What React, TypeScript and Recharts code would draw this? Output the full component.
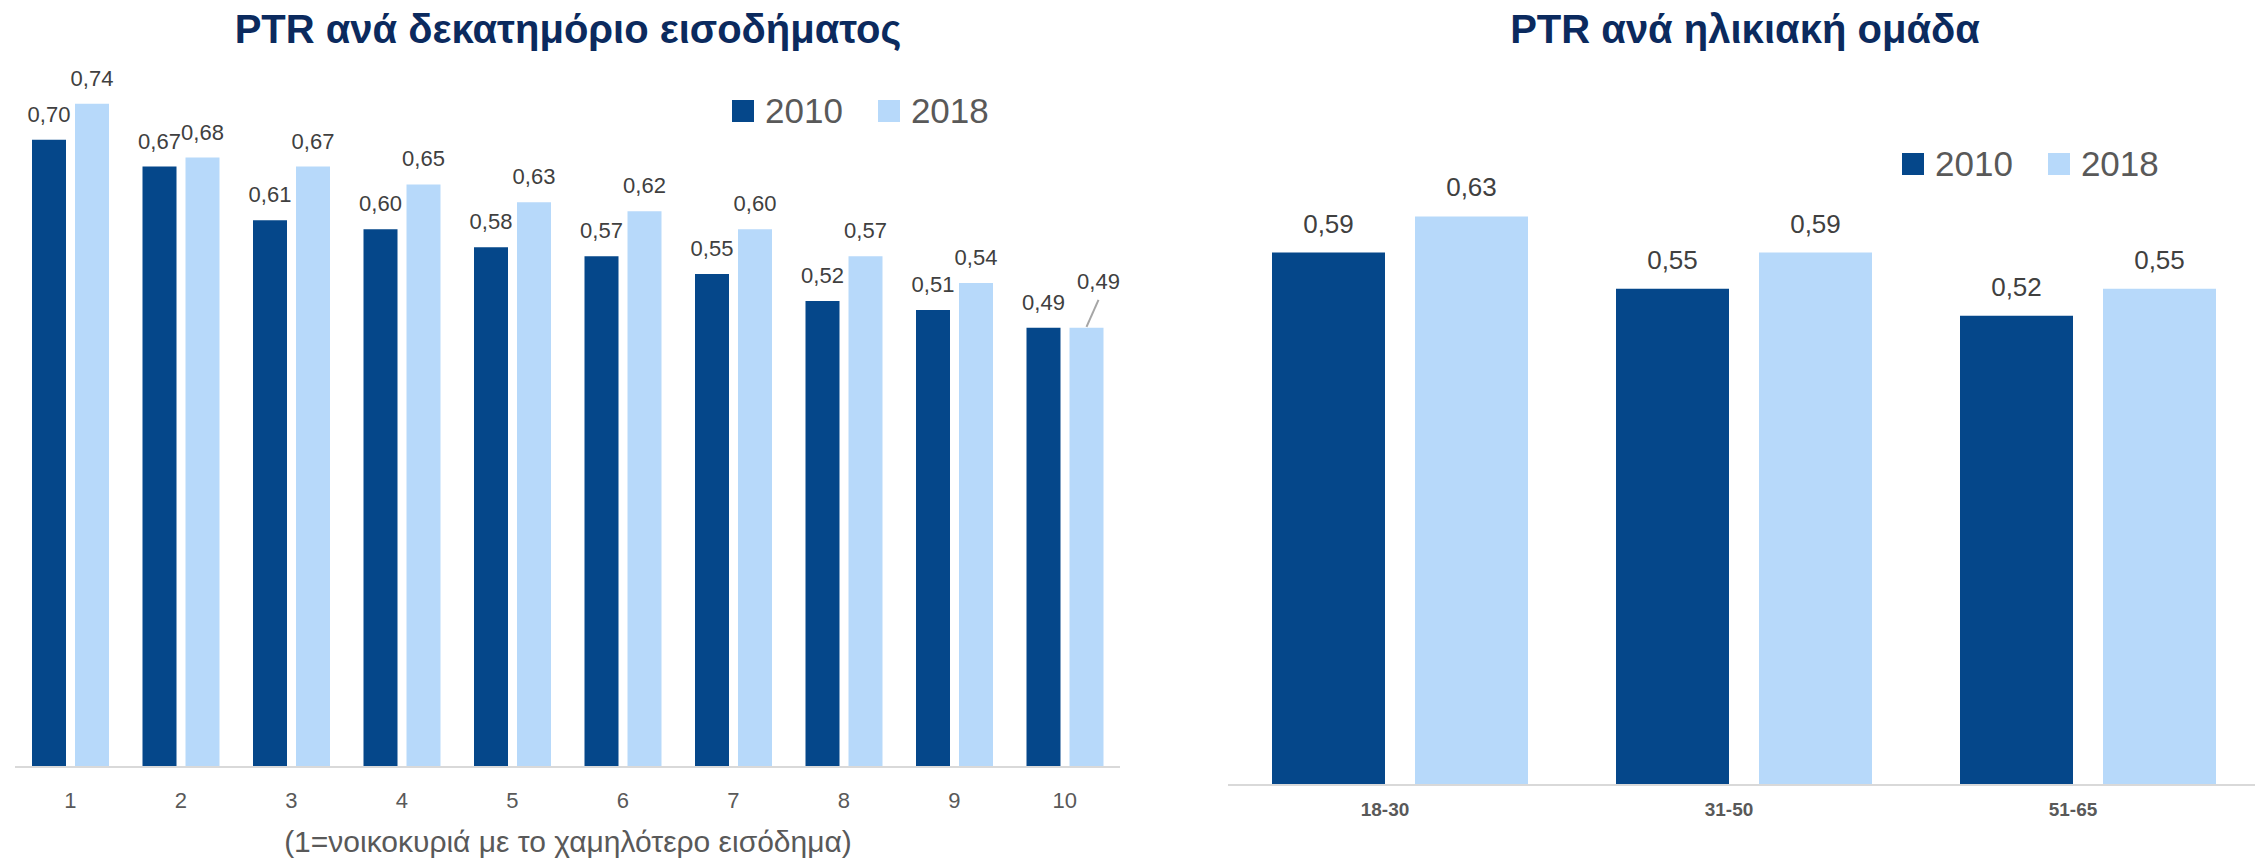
import { Bar, BarChart, LabelList, Legend, XAxis, YAxis } from "recharts";

const deciles = ["1", "2", "3", "4", "5", "6", "7", "8", "9", "10"];
const decile2010 = [0.7, 0.67, 0.61, 0.6, 0.58, 0.57, 0.55, 0.52, 0.51, 0.49];
const decile2018 = [0.74, 0.68, 0.67, 0.65, 0.63, 0.62, 0.6, 0.57, 0.54, 0.49];

const ageGroups = ["18-30", "31-50", "51-65"];
const age2010 = [0.59, 0.55, 0.52];
const age2018 = [0.63, 0.59, 0.55];

const seriesNames = ["2010", "2018"];

const FONT = "'Liberation Sans', Arial, sans-serif";
const DARK = "#05478a";
const LIGHT = "#b7d9fa";
const TITLE = "#0b2a5e";

const decileData = deciles.map((d, i) => ({ name: d, y2010: decile2010[i], y2018: decile2018[i] }));
const ageData = ageGroups.map((g, i) => ({ name: g, y2010: age2010[i], y2018: age2018[i] }));

const fmt = (v: any) => Number(v).toFixed(2).replace(".", ",");

const LegendBox = () => (
  <div style={{ display: "flex", fontFamily: FONT, fontSize: 35, color: "#595959" }}>
    {seriesNames.map((n, i) => (
      <div key={n} style={{ display: "flex", alignItems: "center", height: 35, marginRight: i === 0 ? 35 : 0 }}>
        <div style={{ width: 22, height: 22, background: i === 0 ? DARK : LIGHT, marginRight: 11 }} />
        <span style={{ lineHeight: "35px" }}>{n}</span>
      </div>
    ))}
  </div>
);

// last 2018 decile label is pushed up with a leader line, like the original
const Label2018 = (props: any) => {
  const { x, y, width, value, index } = props;
  const cx = x + width / 2;
  if (index === decile2018.length - 1) {
    return (
      <g>
        <line x1={cx + 12} y1={y - 28} x2={cx} y2={y - 1} stroke="#a6a6a6" strokeWidth={2} />
        <text x={cx + 12} y={y - 39} textAnchor="middle" fontSize={22} fill="#404040" fontFamily={FONT}>
          {fmt(value)}
        </text>
      </g>
    );
  }
  return (
    <text x={cx} y={y - 18} textAnchor="middle" fontSize={22} fill="#404040" fontFamily={FONT}>
      {fmt(value)}
    </text>
  );
};

const titleStyle = (center: number): React.CSSProperties => ({
  position: "absolute",
  left: center - 500,
  width: 1000,
  top: 9,
  textAlign: "center",
  fontFamily: FONT,
  fontWeight: 700,
  fontSize: 40,
  lineHeight: "40px",
  color: TITLE,
});

export default function App() {
  return (
    <div style={{ position: "absolute", left: 0, top: 0, width: 2255, height: 861, overflow: "hidden", background: "#fff" }}>
      <div style={titleStyle(568)}>PTR ανά δεκατημόριο εισοδήματος</div>
      <div style={titleStyle(1745)}>PTR ανά ηλικιακή ομάδα</div>

      <div style={{ position: "absolute", left: 0, top: 0 }}>
        <BarChart
          width={1140}
          height={861}
          data={decileData}
          margin={{ top: 50, right: 20, left: 15, bottom: 34 }}
          barCategoryGap={17}
          barGap={9}
        >
          <XAxis
            dataKey="name"
            height={60}
            tickLine={false}
            tickSize={6}
            tickMargin={19}
            axisLine={{ stroke: "#d9d9d9", strokeWidth: 2 }}
            tick={{ fontSize: 22, fill: "#595959", fontFamily: FONT }}
            interval={0}
          />
          <YAxis hide domain={[0, 0.8]} />
          <Legend
            layout="horizontal"
            verticalAlign="middle"
            align="center"
            content={() => <LegendBox />}
            wrapperStyle={{ left: 732, top: 93, width: "auto" }}
          />
          <Bar dataKey="y2010" name="2010" fill={DARK} isAnimationActive={false}>
            <LabelList dataKey="y2010" position="top" offset={18} formatter={fmt} fontSize={22} fill="#404040" fontFamily={FONT} />
          </Bar>
          <Bar dataKey="y2018" name="2018" fill={LIGHT} isAnimationActive={false}>
            <LabelList dataKey="y2018" content={Label2018} />
          </Bar>
        </BarChart>
      </div>

      <div
        style={{
          position: "absolute",
          left: 68,
          width: 1000,
          top: 827,
          textAlign: "center",
          fontFamily: FONT,
          fontSize: 30,
          lineHeight: "30px",
          color: "#595959",
        }}
      >
        (1=νοικοκυριά με το χαμηλότερο εισόδημα)
      </div>

      <div style={{ position: "absolute", left: 1200, top: 0 }}>
        <BarChart
          width={1070}
          height={861}
          data={ageData}
          margin={{ top: 63, right: 10, left: 28, bottom: 26 }}
          barCategoryGap={44}
          barGap={30}
        >
          <XAxis
            dataKey="name"
            height={50}
            tickLine={false}
            tickSize={6}
            tickMargin={12}
            axisLine={{ stroke: "#d9d9d9", strokeWidth: 2 }}
            tick={{ fontSize: 19, fill: "#595959", fontFamily: FONT, fontWeight: 700, dx: -15 }}
            interval={0}
          />
          <YAxis hide domain={[0, 0.8]} />
          <Legend
            layout="horizontal"
            verticalAlign="middle"
            align="center"
            content={() => <LegendBox />}
            wrapperStyle={{ left: 702, top: 146, width: "auto" }}
          />
          <Bar dataKey="y2010" name="2010" fill={DARK} isAnimationActive={false}>
            <LabelList dataKey="y2010" position="top" offset={20} formatter={fmt} fontSize={26} fill="#404040" fontFamily={FONT} />
          </Bar>
          <Bar dataKey="y2018" name="2018" fill={LIGHT} isAnimationActive={false}>
            <LabelList dataKey="y2018" position="top" offset={20} formatter={fmt} fontSize={26} fill="#404040" fontFamily={FONT} />
          </Bar>
        </BarChart>
      </div>
    </div>
  );
}
